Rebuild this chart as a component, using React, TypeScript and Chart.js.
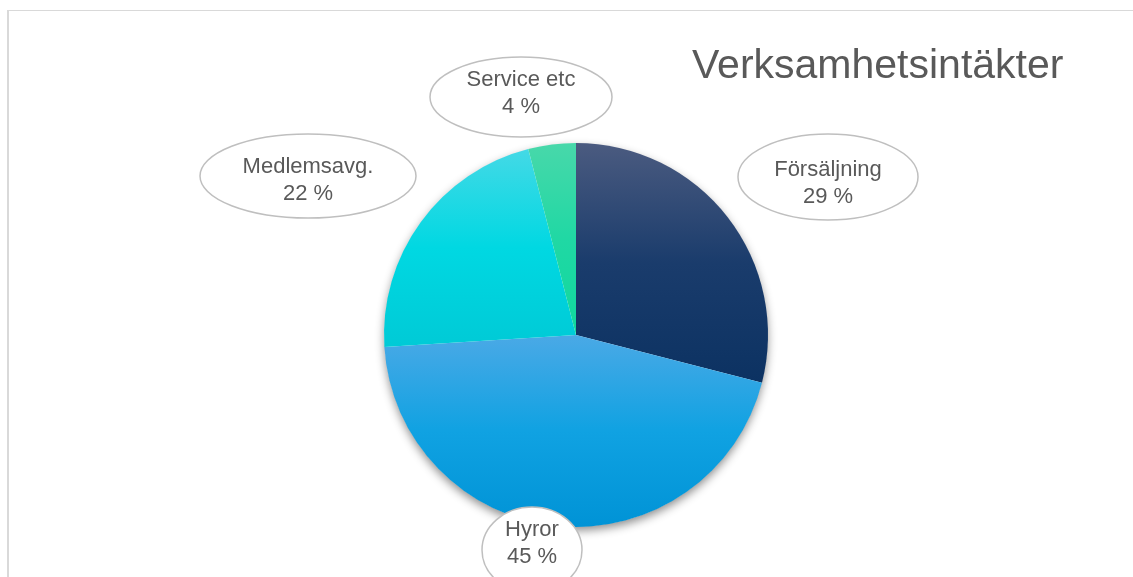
import React, { useEffect, useRef } from "react";
import { Chart, registerables } from "chart.js";

Chart.register(...registerables);

const categories = ["Försäljning", "Hyror", "Medlemsavg.", "Service etc"];
const shares = [29, 45, 22, 4];
const titleText = "Verksamhetsintäkter";

// gradient colour stops per slice (top, middle, bottom)
const sliceGradients = [
  ["#4b5b80", "#1a3c6c", "#0c3262"],
  ["#4aa9e6", "#10a2e2", "#0093d6"],
  ["#44d9e6", "#00d8e2", "#00cad6"],
  ["#48d8aa", "#20d8a4", "#10d89e"],
];

// callout ellipse boxes (centre x/y, radii, text middle y) for each slice label
const calloutBoxes = [
  { cx: 828, cy: 177, rx: 90, ry: 43, ty: 183.5 },
  { cx: 532, cy: 550, rx: 50, ry: 43, ty: 543 },
  { cx: 308, cy: 176, rx: 108, ry: 42, ty: 180 },
  { cx: 521, cy: 97, rx: 91, ry: 40, ty: 93 },
];

const TEXT_COLOR = "#595959";
const FONT = '"Liberation Sans", Arial, sans-serif';

function sliceYRange(cy: number, r: number, a0: number, a1: number) {
  let minY = cy;
  let maxY = cy;
  const check = (a: number) => {
    const y = cy + r * Math.sin(a);
    minY = Math.min(minY, y);
    maxY = Math.max(maxY, y);
  };
  check(a0);
  check(a1);
  const crit = [-Math.PI / 2, Math.PI / 2, (3 * Math.PI) / 2, (5 * Math.PI) / 2];
  for (const c of crit) if (c > a0 && c < a1) check(c);
  return [minY, maxY];
}

const framePlugin = {
  id: "frame",
  beforeDraw(chart: any) {
    const ctx = chart.ctx;
    ctx.save();
    ctx.fillStyle = "#ffffff";
    ctx.fillRect(0, 0, chart.width, chart.height);
    ctx.fillStyle = "#d9d9d9";
    ctx.fillRect(7, 10, chart.width - 7, 1);
    ctx.fillRect(7, 10, 2, chart.height - 10);
    ctx.restore();
  },
  beforeDatasetsDraw(chart: any) {
    const meta = chart.getDatasetMeta(0);
    const arc = meta.data[0];
    if (!arc) return;
    const ctx = chart.ctx;
    ctx.save();
    ctx.shadowColor = "rgba(0,0,0,0.45)";
    ctx.shadowBlur = 10;
    ctx.shadowOffsetY = 4;
    ctx.fillStyle = "#ffffff";
    ctx.beginPath();
    ctx.arc(arc.x, arc.y, arc.outerRadius - 0.5, 0, Math.PI * 2);
    ctx.fill();
    ctx.restore();
  },
  afterDatasetsDraw(chart: any) {
    const ctx = chart.ctx;
    ctx.save();
    // title
    ctx.fillStyle = TEXT_COLOR;
    ctx.font = `41px ${FONT}`;
    ctx.textAlign = "left";
    ctx.textBaseline = "alphabetic";
    ctx.fillText(titleText, 692, 78);
    // callouts
    categories.forEach((name, i) => {
      const b = calloutBoxes[i];
      ctx.beginPath();
      ctx.ellipse(b.cx, b.cy, b.rx, b.ry, 0, 0, Math.PI * 2);
      ctx.fillStyle = "#ffffff";
      ctx.fill();
      ctx.lineWidth = 1.5;
      ctx.strokeStyle = "#bfbfbf";
      ctx.stroke();
      ctx.fillStyle = TEXT_COLOR;
      ctx.font = `22px ${FONT}`;
      ctx.textAlign = "center";
      ctx.textBaseline = "middle";
      ctx.fillText(name, b.cx, b.ty - 13.5);
      ctx.fillText(`${shares[i]} %`, b.cx, b.ty + 13.5);
    });
    ctx.restore();
  },
};

export default function App() {
  const canvasRef = useRef<HTMLCanvasElement>(null);

  useEffect(() => {
    if (!canvasRef.current) return;
    const total = shares.reduce((a, b) => a + b, 0);
    const chart = new Chart(canvasRef.current, {
      type: "pie",
      data: {
        labels: categories,
        datasets: [
          {
            data: shares,
            borderWidth: 0,
            backgroundColor: (c: any) => {
              const chart = c.chart;
              const area = chart.chartArea;
              const i = c.dataIndex;
              const stops = sliceGradients[i] || sliceGradients[0];
              if (!area || i === undefined) return stops[1];
              const cx = (area.left + area.right) / 2;
              const cy = (area.top + area.bottom) / 2;
              const r = Math.min(area.right - area.left, area.bottom - area.top) / 2;
              let before = 0;
              for (let k = 0; k < i; k++) before += shares[k];
              const a0 = -Math.PI / 2 + (before / total) * Math.PI * 2;
              const a1 = a0 + (shares[i] / total) * Math.PI * 2;
              const [y0, y1] = sliceYRange(cy, r, a0, a1);
              const g = chart.ctx.createLinearGradient(cx, y0, cx, y1);
              g.addColorStop(0, stops[0]);
              g.addColorStop(0.5, stops[1]);
              g.addColorStop(1, stops[2]);
              return g;
            },
          },
        ],
      },
      options: {
        responsive: false,
        animation: false,
        layout: { padding: { left: 384, right: 365, top: 143, bottom: 50 } },
        plugins: {
          legend: { display: false },
          tooltip: { enabled: false },
          title: { display: false },
        },
      },
      plugins: [framePlugin],
    });
    return () => chart.destroy();
  }, []);

  return (
    <div style={{ position: "fixed", left: 0, top: 0, width: 1133, height: 577, background: "#fff" }}>
      <canvas ref={canvasRef} width={1133} height={577} style={{ display: "block" }} />
    </div>
  );
}
